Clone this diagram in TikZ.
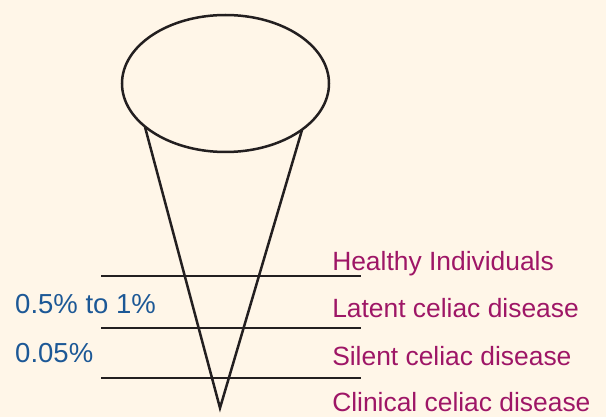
\documentclass[tikz,border=0pt]{standalone}
\usepackage{fontspec}
\setmainfont{Liberation Sans}
\usepackage{tikz}
\usetikzlibrary{shapes.geometric,positioning}
\definecolor{paper}{RGB}{255,246,232}
\definecolor{ink}{RGB}{35,31,32}
\definecolor{plum}{RGB}{158,22,102}
\definecolor{rateblue}{RGB}{28,88,150}
\begin{document}
\begin{tikzpicture}[x=1pt,y=-1pt,line width=2.5pt,draw=ink]
        %
        % `stage' is used for the names on the right.
        % `rate' is used for the figures on the left.
        \tikzstyle{stage} = [anchor=base west,inner sep=0pt,text=plum,font=\fontsize{26.4}{30}\selectfont]
        \tikzstyle{rate} = [anchor=base west,inner sep=0pt,text=rateblue,font=\fontsize{27.5}{30}\selectfont]
        \tikzstyle{band} = [draw=ink]
        %
        % Background
        \fill[paper] (0,0) rectangle (606,417);
        \useasboundingbox (0,0) rectangle (606,417);
        %
        % Cone
        \node[draw,ellipse,minimum width=207,minimum height=137,inner sep=0pt] (cup) at (225.5,83.5) {};
        \coordinate (rimL) at (145,127);
        \coordinate (rimR) at (302,130);
        \coordinate (tip) at (220,408);
        \draw (rimL) -- (tip) -- (rimR);
        %
        % Bands
        \foreach \y in {276,328,378}
            \draw[band] (101,\y) -- (361,\y);
        %
        % Stages
        \node[stage] (healthy) at (331,271) {Healthy Individuals};
        \node[stage] (latent) at (331,317) {Latent celiac disease};
        \node[stage] (silent) at (331,366) {Silent celiac disease};
        \node[stage] (clinical) at (331,411) {Clinical celiac disease};
        %
        % Rates
        \node[rate] (rate1) at (14,313) {0.5\% to 1\%};
        \node[rate] (rate2) at (14,362) {0.05\%};
        %
\end{tikzpicture}
\end{document}
